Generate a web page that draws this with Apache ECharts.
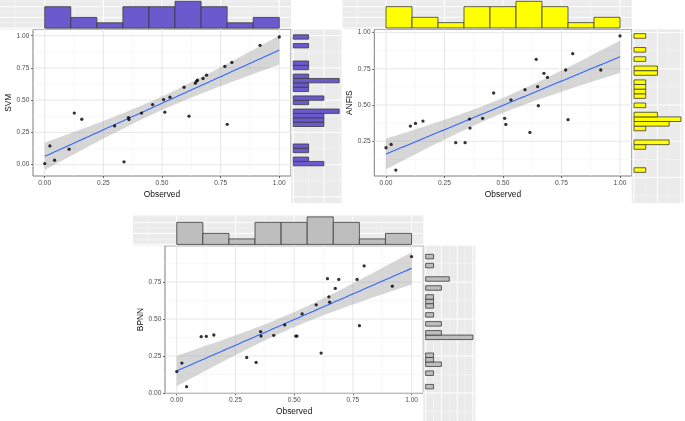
<!DOCTYPE html>
<html><head><meta charset="utf-8">
<script src="https://cdn.jsdelivr.net/npm/echarts@6/dist/echarts.min.js"></script>
<style>html,body{margin:0;padding:0;background:#fff}#c{width:685px;height:421px}</style>
</head><body><div id="c"></div>
<script>
// ---- data ----
const observed = [0.000, 0.022, 0.042, 0.104, 0.126, 0.158, 0.298, 0.338, 0.357, 0.359, 0.413, 0.460, 0.507, 0.512, 0.534, 0.594, 0.615, 0.642, 0.648, 0.651, 0.675, 0.690, 0.768, 0.778, 0.798, 0.918, 1.000];
const svm      = [0.008, 0.145, 0.034, 0.120, 0.400, 0.352, 0.300, 0.022, 0.365, 0.350, 0.400, 0.466, 0.505, 0.407, 0.523, 0.600, 0.376, 0.632, 0.648, 0.655, 0.668, 0.694, 0.762, 0.313, 0.793, 0.925, 0.990];
const anfis    = [0.205, 0.228, 0.051, 0.355, 0.373, 0.389, 0.240, 0.240, 0.403, 0.341, 0.408, 0.583, 0.408, 0.366, 0.535, 0.606, 0.311, 0.816, 0.627, 0.495, 0.719, 0.691, 0.742, 0.399, 0.855, 0.742, 0.977];
const bpnn     = [0.145, 0.202, 0.043, 0.381, 0.383, 0.392, 0.240, 0.207, 0.415, 0.385, 0.390, 0.460, 0.385, 0.385, 0.535, 0.596, 0.270, 0.773, 0.650, 0.614, 0.707, 0.768, 0.768, 0.455, 0.859, 0.722, 0.922];
// marginal histogram of Observed (9 bins over 0..1)
const observedHist = [4, 2, 1, 4, 4, 5, 4, 1, 2];
// marginal histograms of the predictions (30 bins, lowest first)
const svmHist   = [2,1,0,1,1,0,0,0,0,2,2,2,3,0,1,2,0,1,1,3,1,0,1,1,0,0,0,1,0,1];
const anfisHist = [1,0,0,0,0,1,3,0,0,1,3,4,2,0,1,0,1,1,1,1,0,2,2,0,1,0,1,0,0,1];
const bpnnHist  = [1,0,0,1,0,2,1,1,0,0,0,6,2,0,2,0,1,0,1,1,1,0,2,0,3,0,0,1,0,1];
const xTicks = [0, 0.25, 0.5, 0.75, 1];
const svmTicks = [0, 0.25, 0.5, 0.75, 1];
const anfisTicks = [0.25, 0.5, 0.75, 1];
const bpnnTicks = [0, 0.25, 0.5, 0.75];
const majorBreaks = [-0.5, -0.25, 0, 0.25, 0.5, 0.75, 1, 1.25];
const minorBreaks = [-0.375, -0.125, 0.125, 0.375, 0.625, 0.875, 1.125];

// ---- layout ----
const FONT = '"Liberation Sans", Arial, Helvetica, sans-serif';
const xRange = [-0.05, 1.05];
const panels = [
  {title:'SVM', values:svm, hist:svmHist, ticks:svmTicks, fill:'#6A5ACD',
   main:{left:33, top:29.5, width:258, height:146.5}, yRange:[-0.088, 1.048],
   stripLeft:0, stripTop:0, rightWidth:50.5, bottom:203},
  {title:'ANFIS', values:anfis, hist:anfisHist, ticks:anfisTicks, fill:'#FFFF00',
   main:{left:374.3, top:29.3, width:257.4, height:146.7}, yRange:[0.01, 1.023],
   stripLeft:342.5, stripTop:0, rightWidth:51.5, bottom:203},
  {title:'BPNN', values:bpnn, hist:bpnnHist, ticks:bpnnTicks, fill:'#BEBEBE',
   main:{left:165, top:245.8, width:258.3, height:147.5}, yRange:[-0.002, 0.995],
   stripLeft:133, stripTop:215.5, rightWidth:52, bottom:421}
];

function lmFit(xs, ys) {
  const n = xs.length;
  const mx = xs.reduce((a,b)=>a+b,0)/n, my = ys.reduce((a,b)=>a+b,0)/n;
  let sxx=0, sxy=0;
  for (let i=0;i<n;i++){ sxx+=(xs[i]-mx)**2; sxy+=(xs[i]-mx)*(ys[i]-my); }
  const b = sxy/sxx, a = my - b*mx;
  let ss=0; for (let i=0;i<n;i++){ ss += (ys[i]-a-b*xs[i])**2; }
  const s = Math.sqrt(ss/(n-2));
  const t = 2.0595; // qt(0.975, 25)
  const lo = Math.min(...xs), hi = Math.max(...xs);
  const line=[], upper=[], lower=[];
  for (let i=0;i<80;i++){
    const x = lo + (hi-lo)*i/79;
    const f = a + b*x;
    const se = s*Math.sqrt(1/n + (x-mx)**2/sxx);
    line.push([x,f]); upper.push([x,f+t*se]); lower.push([x,f-t*se]);
  }
  return {line, upper, lower};
}

function linesSeries(gi, xr, yr, xMaj, xMin, yMaj, yMin, st) {
  return {
    type:'custom', xAxisIndex:gi, yAxisIndex:gi, z:1, silent:true, clip:false,
    data:[[(xr[0]+xr[1])/2, (yr[0]+yr[1])/2]],
    renderItem:(p, api)=>{
      const ch=[];
      const inX=v=>v>xr[0]+1e-9&&v<xr[1]-1e-9, inY=v=>v>yr[0]+1e-9&&v<yr[1]-1e-9;
      const addV=(v,c,w)=>{const a=api.coord([v,yr[0]]), b=api.coord([v,yr[1]]);
        ch.push({type:'line',shape:{x1:a[0],y1:a[1],x2:b[0],y2:b[1]},style:{stroke:c,lineWidth:w}});};
      const addH=(v,c,w)=>{const a=api.coord([xr[0],v]), b=api.coord([xr[1],v]);
        ch.push({type:'line',shape:{x1:a[0],y1:a[1],x2:b[0],y2:b[1]},style:{stroke:c,lineWidth:w}});};
      xMin.filter(inX).forEach(v=>addV(v,st.minC,st.minW));
      yMin.filter(inY).forEach(v=>addH(v,st.minC,st.minW));
      xMaj.filter(inX).forEach(v=>addV(v,st.majC,st.majW));
      yMaj.filter(inY).forEach(v=>addH(v,st.majC,st.majW));
      return {type:'group', children:ch};
    }
  };
}

const grids=[], xAxes=[], yAxes=[], series=[];
const hiddenAxis = (gi, r)=>({type:'value', gridIndex:gi, min:r[0], max:r[1], show:false});
const barStyle = (fill)=>({fill:fill, stroke:'#3a3a3a', lineWidth:0.8});
const intRange = (m)=>Array.from({length:m+1},(_, i)=>i);

panels.forEach(pn=>{
  const m = pn.main;
  const mRight = m.left + m.width, mBottom = m.top + m.height;
  const pxX = m.width/(xRange[1]-xRange[0]);
  const pxY = m.height/(pn.yRange[1]-pn.yRange[0]);

  // ---- main panel ----
  const gi = grids.length;
  grids.push({left:m.left, top:m.top, width:m.width, height:m.height, show:true,
    backgroundColor:'#FFFFFF', borderColor:'#7d7d7d', borderWidth:1, outerBoundsMode:'none'});
  xAxes.push({type:'value', gridIndex:gi, min:xRange[0], max:xRange[1],
    axisLine:{show:false, onZero:false}, splitLine:{show:false},
    axisTick:{show:true, length:2, lineStyle:{color:'#444', width:0.8}, customValues:xTicks},
    axisLabel:{customValues:xTicks, formatter:v=>v.toFixed(2), fontSize:6.6, color:'#4d4d4d', margin:3.6, fontFamily:FONT},
    name:'Observed', nameLocation:'middle', nameGap:14.5,
    nameTextStyle:{fontSize:8.4, color:'#111', fontFamily:FONT}});
  yAxes.push({type:'value', gridIndex:gi, min:pn.yRange[0], max:pn.yRange[1],
    axisLine:{show:false, onZero:false}, splitLine:{show:false},
    axisTick:{show:true, length:2, lineStyle:{color:'#444', width:0.8}, customValues:pn.ticks},
    axisLabel:{customValues:pn.ticks, formatter:v=>v.toFixed(2), fontSize:6.6, color:'#4d4d4d', margin:3.6, fontFamily:FONT},
    name:pn.title, nameLocation:'middle', nameGap:17, nameRotate:90,
    nameTextStyle:{fontSize:8.4, color:'#111', fontFamily:FONT}});
  series.push(linesSeries(gi, xRange, pn.yRange, majorBreaks, minorBreaks, majorBreaks, minorBreaks,
    {majC:'#e4e4e4', majW:0.9, minC:'#f1f1f1', minW:0.6}));
  const fit = lmFit(observed, pn.values);
  series.push({type:'custom', xAxisIndex:gi, yAxisIndex:gi, z:2, silent:true,
    data:[[0.5, 0.5]],
    renderItem:(p, api)=>{
      const pts = fit.upper.map(d=>api.coord(d)).concat(fit.lower.slice().reverse().map(d=>api.coord(d)));
      return {type:'polygon', shape:{points:pts}, style:{fill:'rgba(153,153,153,0.4)'}};
    }});
  series.push({type:'line', xAxisIndex:gi, yAxisIndex:gi, z:3, silent:true, data:fit.line,
    showSymbol:false, lineStyle:{color:'#3366FF', width:1.1}});
  series.push({type:'scatter', xAxisIndex:gi, yAxisIndex:gi, z:4, silent:true,
    data:observed.map((x,i)=>[x, pn.values[i]]), symbolSize:3.3, itemStyle:{color:'#000'}});

  // ---- top marginal (Observed) ----
  const ti = grids.length;
  const topMax = Math.max(...observedHist);
  const txr = [xRange[0] - (m.left - pn.stripLeft)/pxX, xRange[1]];
  const tyr = [-0.05*topMax, 1.05*topMax];
  grids.push({left:pn.stripLeft, top:pn.stripTop, width:mRight - pn.stripLeft, height:m.top - pn.stripTop,
    show:true, backgroundColor:'#EBEBEB', borderWidth:0, outerBoundsMode:'none'});
  xAxes.push(hiddenAxis(ti, txr)); yAxes.push(hiddenAxis(ti, tyr));
  series.push(linesSeries(ti, txr, tyr, majorBreaks, minorBreaks, intRange(topMax).filter(v=>v%2===0), intRange(topMax).filter(v=>v%2===1),
    {majC:'#ffffff', majW:1, minC:'#f7f7f7', minW:0.6}));
  const nb = observedHist.length;
  series.push({type:'custom', xAxisIndex:ti, yAxisIndex:ti, z:3, silent:true,
    data:observedHist.map((c,i)=>[i/nb, (i+1)/nb, c]).filter(d=>d[2]>0),
    renderItem:(p, api)=>{
      const a = api.coord([api.value(0), 0]), b = api.coord([api.value(1), api.value(2)]);
      return {type:'rect', shape:{x:a[0], y:b[1], width:b[0]-a[0], height:a[1]-b[1]}, style:barStyle(pn.fill)};
    }});

  // ---- right marginal (prediction) ----
  const ri = grids.length;
  const hMax = Math.max(...pn.hist);
  const rxr = [-0.05*hMax, 1.05*hMax];
  const ryr = [pn.yRange[0] - (pn.bottom - mBottom)/pxY, pn.yRange[1]];
  grids.push({left:mRight, top:m.top, width:pn.rightWidth, height:pn.bottom - m.top,
    show:true, backgroundColor:'#EBEBEB', borderWidth:0, outerBoundsMode:'none'});
  xAxes.push(hiddenAxis(ri, rxr)); yAxes.push(hiddenAxis(ri, ryr));
  series.push(linesSeries(ri, rxr, ryr, intRange(hMax).filter(v=>v%2===0), intRange(hMax).filter(v=>v%2===1), majorBreaks, minorBreaks,
    {majC:'#ffffff', majW:1, minC:'#f7f7f7', minW:0.6}));
  const vmin = Math.min(...pn.values), vmax = Math.max(...pn.values);
  const bw = (vmax - vmin)/(pn.hist.length - 1);
  series.push({type:'custom', xAxisIndex:ri, yAxisIndex:ri, z:3, silent:true,
    data:pn.hist.map((c,k)=>[vmin+(k-0.5)*bw, vmin+(k+0.5)*bw, c]).filter(d=>d[2]>0),
    renderItem:(p, api)=>{
      const a = api.coord([0, api.value(0)]), b = api.coord([api.value(2), api.value(1)]);
      return {type:'rect', shape:{x:a[0], y:b[1], width:b[0]-a[0], height:a[1]-b[1]}, style:barStyle(pn.fill)};
    }});
});

const chart = echarts.init(document.getElementById('c'), null, {renderer:'canvas'});
chart.setOption({
  animation:false,
  backgroundColor:'#ffffff',
  textStyle:{fontFamily:FONT},
  grid:grids, xAxis:xAxes, yAxis:yAxes, series:series
});
</script>
</body></html>
